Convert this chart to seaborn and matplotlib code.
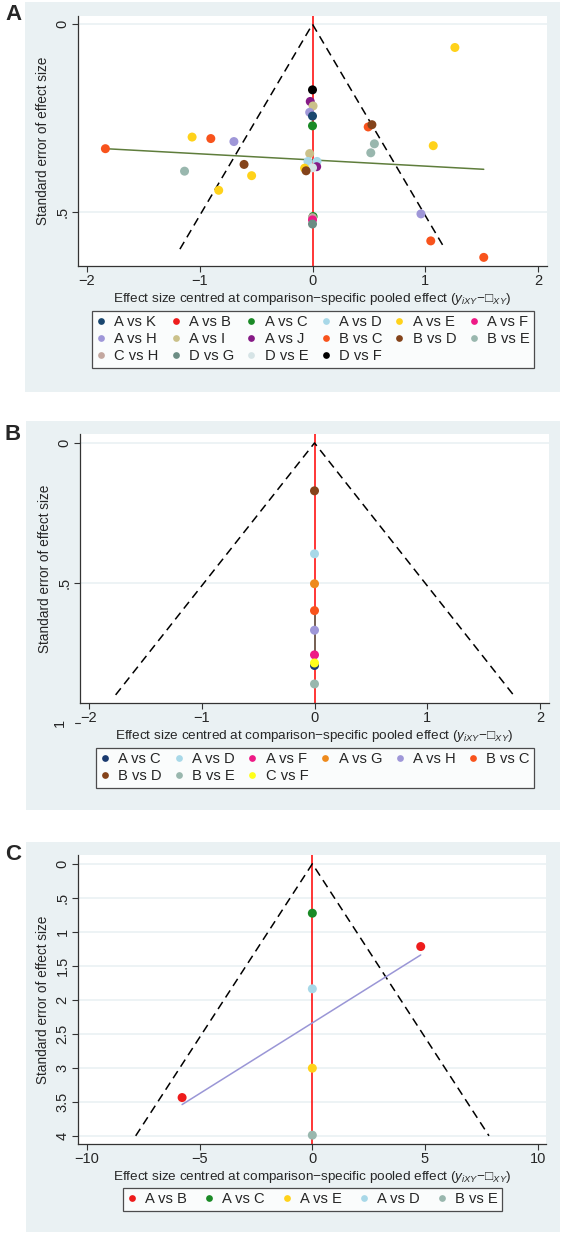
import matplotlib
matplotlib.use("Agg")
import matplotlib.pyplot as plt
from matplotlib.patches import Rectangle
import pandas as pd
import seaborn as sns

sns.set_style("white")
plt.rcParams["font.family"] = ["Liberation Sans", "DejaVu Sans"]
plt.rcParams["mathtext.fontset"] = "custom"
plt.rcParams["mathtext.rm"] = "Liberation Sans"
plt.rcParams["mathtext.it"] = "Liberation Sans:italic"

# ---- data ----
# panel A
a_comp = ["A vs E", "D vs F", "A vs J", "A vs I", "A vs H", "A vs K", "A vs C", "B vs C",
          "B vs D", "A vs E", "B vs C", "A vs H", "B vs C", "B vs E", "A vs E", "B vs E",
          "A vs I", "A vs D", "A vs D", "B vs D", "A vs J", "D vs E", "A vs E", "B vs D",
          "B vs E", "A vs E", "A vs E", "A vs H", "A vs C", "C vs H", "A vs F", "D vs G",
          "B vs C", "B vs C"]
a_x = [1.263, 0.0, -0.02, 0.005, -0.025, 0.0, 0.0, 0.494,
       0.527, -1.068, -0.902, -0.697, -1.837, 0.549, 1.071, 0.517,
       -0.025, -0.04, 0.04, -0.607, 0.037, 0.0, -0.07, -0.057,
       -1.135, -0.54, -0.832, 0.962, 0.005, 0.0, 0.0, 0.0,
       1.049, 1.519]
a_se = [0.062, 0.175, 0.206, 0.218, 0.235, 0.245, 0.271, 0.274,
        0.268, 0.301, 0.305, 0.313, 0.332, 0.319, 0.324, 0.343,
        0.345, 0.366, 0.366, 0.374, 0.38, 0.383, 0.384, 0.391,
        0.392, 0.404, 0.443, 0.506, 0.513, 0.516, 0.522, 0.533,
        0.578, 0.622]
a_legend = ["A vs K", "A vs B", "A vs C", "A vs D", "A vs E", "A vs F",
            "A vs H", "A vs I", "A vs J", "B vs C", "B vs D", "B vs E",
            "C vs H", "D vs G", "D vs E", "D vs F"]
a_fit_x = [-1.837, 1.519]
a_fit_se = [0.332, 0.387]

# panel B
b_comp = ["B vs D", "A vs D", "A vs G", "B vs C", "A vs H", "A vs F", "A vs C", "C vs F", "B vs E"]
b_x = [0, 0, 0, 0, 0, 0, 0, 0, 0]
b_se = [0.171, 0.396, 0.503, 0.599, 0.669, 0.757, 0.795, 0.786, 0.861]
b_legend = ["A vs C", "A vs D", "A vs F", "A vs G", "A vs H", "B vs C",
            "B vs D", "B vs E", "C vs F"]
b_fit_x = [0, 0]
b_fit_se = [0.60, 0.79]

# panel C
c_comp = ["A vs C", "A vs B", "A vs D", "A vs E", "A vs B", "B vs E"]
c_x = [0.0, 4.81, 0.0, 0.0, -5.78, 0.0]
c_se = [0.726, 1.216, 1.838, 3.005, 3.437, 3.99]
c_legend = ["A vs B", "A vs C", "A vs E", "A vs D", "B vs E"]
c_fit_x = [-5.78, 4.81]
c_fit_se = [3.54, 1.34]

funnel_se_max = [0.6, 0.9, 4.0]
z95 = 1.96

colors = {
    "A vs K": "#1a476f", "A vs B": "#ee1c1c", "A vs C": "#1a8a26", "A vs D": "#a8d8e8",
    "A vs E": "#ffd21a", "A vs F": "#ee1a86", "A vs G": "#ee8a1c", "A vs H": "#9f97d8",
    "A vs I": "#cbc18a", "A vs J": "#861a86", "B vs C": "#f8531c", "B vs D": "#84431a",
    "B vs E": "#99b7ae", "C vs H": "#c3a79f", "D vs G": "#6c8d84", "D vs E": "#d6e4e6",
    "D vs F": "#000000", "C vs F": "#ffff1a",
}
colors_b = dict(colors)
colors_b["A vs C"] = "#1a3a6f"

W, H = 566, 1234
fig = plt.figure(figsize=(W / 100, H / 100), dpi=100)
BG = "#eaf1f3"


def fbox(x0, y0, x1, y1):
    return [x0 / W, 1 - y1 / H, (x1 - x0) / W, (y1 - y0) / H]


def panel(letter, bg, axbox, comp, xs, ses, order, pal, fit_x, fit_se, fit_col,
          xlim, ylim, xticks, yticks, yticklabels, se_max, legbox, ncol):
    fig.patches.append(Rectangle((bg[0] / W, 1 - bg[3] / H), (bg[2] - bg[0]) / W,
                                 (bg[3] - bg[1]) / H, transform=fig.transFigure,
                                 facecolor=BG, edgecolor="none", zorder=-10))
    fig.text(5 / W, 1 - (bg[1] + 13) / H, letter, fontsize=16, fontweight="bold",
             va="center", ha="left")
    ax = fig.add_axes(fbox(*axbox))
    ax.set_facecolor("white")
    for yt in yticks:
        ax.axhline(yt, color=BG, lw=1.2, zorder=0)
    ax.axvline(0, color="red", lw=1.1, zorder=1)
    ax.plot([-z95 * se_max, 0, z95 * se_max], [se_max, 0, se_max], color="black",
            lw=1.1, ls=(0, (5.5, 3.5)), zorder=2)
    ax.plot(fit_x, fit_se, color=fit_col, lw=1.1, zorder=2)
    df = pd.DataFrame({"x": xs, "se": ses, "comp": comp})
    sns.scatterplot(data=df, x="x", y="se", hue="comp", hue_order=order, palette=pal,
                    s=42, edgecolor="none", linewidth=0, ax=ax, zorder=3, legend=True)
    ax.set_xlim(*xlim)
    ax.set_ylim(*ylim)
    ax.set_xticks(xticks)
    ax.set_xticklabels([str(t).replace("-", "\u2212") for t in xticks], fontsize=10.5)
    ax.set_yticks(yticks)
    ax.set_yticklabels(yticklabels, rotation=90, va="center", fontsize=10.5)
    for s in ["top", "right"]:
        ax.spines[s].set_visible(False)
    for s in ["left", "bottom"]:
        ax.spines[s].set_color("#333333")
        ax.spines[s].set_linewidth(0.9)
    ax.tick_params(axis="both", direction="out", length=4, width=0.8, color="#333333",
                   left=True, bottom=True, pad=2)
    ax.set_xlabel("Effect size centred at comparison\u2212specific pooled effect "
                  "($y_{iXY}$\u2212\u25a1$_{XY}$)", fontsize=9.7, labelpad=2)
    ax.set_ylabel("Standard error of effect size", fontsize=9.8, labelpad=4)
    handles, labels = ax.get_legend_handles_labels()
    # matplotlib fills legend columns first; reorder so entries read row by row
    idx = [i for c in range(ncol) for i in range(c, len(labels), ncol)]
    handles = [handles[i] for i in idx]
    labels = [labels[i] for i in idx]
    x0, y0, x1, y1 = legbox
    leg = ax.legend(handles, labels, loc="upper left", mode="expand", ncol=ncol,
                    bbox_to_anchor=(x0 / W, 1 - y1 / H, (x1 - x0) / W, (y1 - y0) / H),
                    bbox_transform=fig.transFigure, frameon=True, fancybox=False,
                    edgecolor="#222222", fontsize=10.6, handlelength=0.6,
                    handletextpad=0.6, borderpad=0.3, labelspacing=0.2,
                    markerscale=0.75, borderaxespad=0)
    leg.get_frame().set_linewidth(0.9)
    return ax


panel("A", (25, 2, 560, 392), (78, 16, 547, 266), a_comp, a_x, a_se, a_legend, colors,
      a_fit_x, a_fit_se, "#5f7d3c", (-2.08, 2.08), (0.645, -0.022), [-2, -1, 0, 1, 2],
      [0, 0.5], ["0", ".5"], funnel_se_max[0], (92, 311, 534, 373), 6)

axb = panel("B", (26, 421, 560, 810), (80, 434, 549, 703), b_comp, b_x, b_se, b_legend,
            colors_b, b_fit_x, b_fit_se, "#4f6f5f", (-2.08, 2.08), (0.929, -0.032),
            [-2, -1, 0, 1, 2], [0, 0.5], ["0", ".5"], funnel_se_max[1],
            (96, 748, 534, 792), 6)
# stray "1" tick of the y axis sits below the plot region
axb.plot([-0.01, 0], [1, 1], transform=axb.get_yaxis_transform(), color="#333333",
         lw=0.8, clip_on=False)
axb.text(-0.043, 1, "1", transform=axb.get_yaxis_transform(), rotation=90,
         va="center", ha="center", fontsize=10.5, clip_on=False)

panel("C", (26, 842, 560, 1232), (78, 855, 546, 1144), c_comp, c_x, c_se, c_legend, colors,
      c_fit_x, c_fit_se, "#9a96d6", (-10.4, 10.37), (4.12, -0.13), [-10, -5, 0, 5, 10],
      [0, 0.5, 1, 1.5, 2, 2.5, 3, 3.5, 4],
      ["0", ".5", "1", "1.5", "2", "2.5", "3", "3.5", "4"], funnel_se_max[2],
      (123, 1188, 502, 1213), 5)

fig.savefig("out.png", dpi=100, facecolor="white")
